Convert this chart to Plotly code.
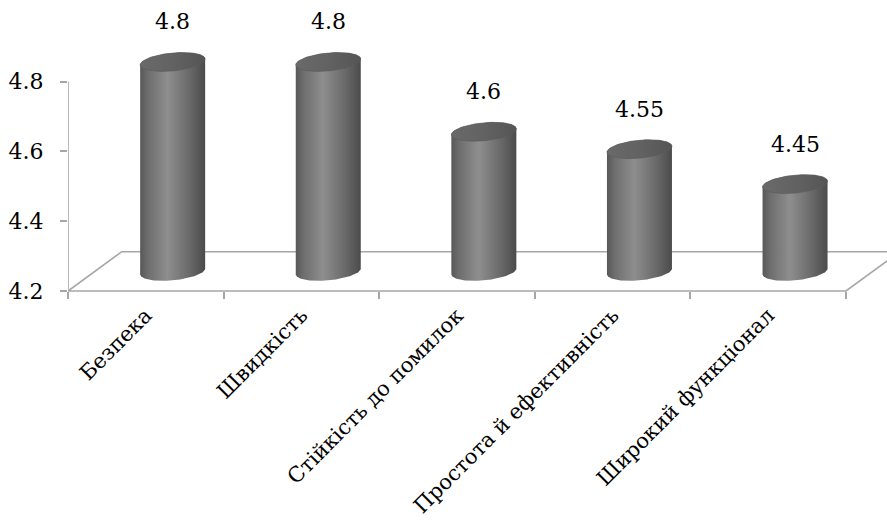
import numpy as np
import plotly.graph_objects as go

# Survey scores per criterion
categories = ["Безпека", "Швидкість", "Стійкість до помилок",
              "Простота й ефективність", "Широкий функціонал"]
values = [4.8, 4.8, 4.6, 4.55, 4.45]
value_labels = ["4.8", "4.8", "4.6", "4.55", "4.45"]
y_ticks = [4.2, 4.4, 4.6, 4.8]
y_base = 4.2

# ---- page / scale setup -------------------------------------------------
W, H = 887, 521
AX_LEFT_PX = 68          # x pixel of the front-left floor corner
SLOT_PX = 155.6          # pixel width of one category slot
BASE_PX = 291            # y pixel of the value axis minimum
STEP_PX = 69.8           # pixels per 0.2 of value

ux = 1.0 / SLOT_PX                 # data units per pixel (x)
uy = 0.2 / STEP_PX                 # data units per pixel (y)

x_lo = -0.5
x_hi = x_lo + (W - AX_LEFT_PX) * ux
y_hi = y_base + BASE_PX * uy
y_lo = y_base - (H - BASE_PX) * uy

# oblique depth of the floor
DEPTH_X = 53.7 * ux
DEPTH_Y = 39.3 * uy

# cylinder geometry (pixels)
RAD_A = 32.5
RAD_B = 9.0
SHEAR = 0.09

GRID = "#a6a6a6"
FONT = "DejaVu Serif"

fig = go.Figure()

# ---- floor and value axis -----------------------------------------------
n = len(categories)
front_l = (x_lo, y_base)
front_r = (n - 0.5, y_base)
back_l = (x_lo + DEPTH_X, y_base + DEPTH_Y)
back_r = (n - 0.5 + DEPTH_X, y_base + DEPTH_Y)
floor_x = [front_l[0], front_r[0], back_r[0], back_l[0], front_l[0]]
floor_y = [front_l[1], front_r[1], back_r[1], back_l[1], front_l[1]]
fig.add_trace(go.Scatter(x=floor_x, y=floor_y, mode="lines",
                         line=dict(color=GRID, width=1.6),
                         hoverinfo="skip", showlegend=False))
fig.add_trace(go.Scatter(x=[x_lo, x_lo], y=[y_base, max(y_ticks)], mode="lines",
                         line=dict(color=GRID, width=1.6),
                         hoverinfo="skip", showlegend=False))


def ellipse(cx, cy, t):
    """Points of a slightly tilted ellipse around (cx, cy) in data units."""
    px = RAD_A * np.cos(t)
    py = RAD_B * np.sin(t) + SHEAR * px   # y up in data space
    return cx + px * ux, cy + py * uy


# ---- cylinders -----------------------------------------------------------
body_scale = [[0.0, "#585858"], [0.12, "#6e6e6e"], [0.42, "#8e8e8e"],
              [0.75, "#6a6a6a"], [1.0, "#4b4b4b"]]
cap_scale = [[0.0, "#6a6a6a"], [0.5, "#626262"], [1.0, "#555555"]]

for i, v in enumerate(values):
    cx = i + DEPTH_X / 2
    y_bot = y_base + DEPTH_Y / 2
    y_top = v + DEPTH_Y / 2

    # body: lower arc of the base ellipse, then upper arc of the top ellipse
    t_low = np.linspace(np.pi, 2 * np.pi, 60)
    bx, by = ellipse(cx, y_bot, t_low)
    t_up = np.linspace(0, np.pi, 60)
    tx, ty = ellipse(cx, y_top, t_up)
    body_x = np.concatenate([bx, tx, bx[:1]])
    body_y = np.concatenate([by, ty, by[:1]])
    fig.add_trace(go.Scatter(
        x=body_x, y=body_y, mode="lines", fill="toself",
        line=dict(width=0, color="rgba(0,0,0,0)"),
        fillgradient=dict(type="horizontal", colorscale=body_scale),
        hoverinfo="skip", showlegend=False))

    # top cap
    t_all = np.linspace(0, 2 * np.pi, 120)
    ex, ey = ellipse(cx, y_top, t_all)
    fig.add_trace(go.Scatter(
        x=ex, y=ey, mode="lines", fill="toself",
        line=dict(width=0.6, color="#5a5a5a"),
        fillgradient=dict(type="horizontal", colorscale=cap_scale),
        hoverinfo="skip", showlegend=False))

    fig.add_annotation(x=cx, y=y_top, text=value_labels[i], showarrow=False,
                       yshift=40, yanchor="middle",
                       font=dict(family=FONT, size=22, color="black"))

# ---- axes ----------------------------------------------------------------
fig.update_layout(
    width=W, height=H,
    margin=dict(l=0, r=0, t=0, b=0, autoexpand=False),
    paper_bgcolor="white", plot_bgcolor="white",
    font=dict(family=FONT, color="black"),
    xaxis=dict(
        domain=[AX_LEFT_PX / W, 1], range=[x_lo, x_hi],
        anchor="free", position=(H - BASE_PX) / H,
        showgrid=False, zeroline=False, showline=False,
        tickmode="array", tickvals=list(range(n)), ticktext=categories,
        tickangle=-45, ticks="", ticklabelstandoff=7,
        tickfont=dict(family=FONT, size=21),
        minor=dict(tickmode="array",
                   tickvals=[k - 0.5 for k in range(n + 1)],
                   ticks="outside", ticklen=7, tickcolor=GRID, tickwidth=1.6),
    ),
    yaxis=dict(
        domain=[0, 1], range=[y_lo, y_hi],
        showgrid=False, zeroline=False, showline=False,
        tickmode="array", tickvals=y_ticks,
        ticktext=[f"{t:.1f}" for t in y_ticks],
        ticks="outside", ticklen=7, tickcolor=GRID, tickwidth=1.6,
        ticklabelstandoff=12,
        tickfont=dict(family=FONT, size=22),
    ),
)

fig.write_html("out.html")
